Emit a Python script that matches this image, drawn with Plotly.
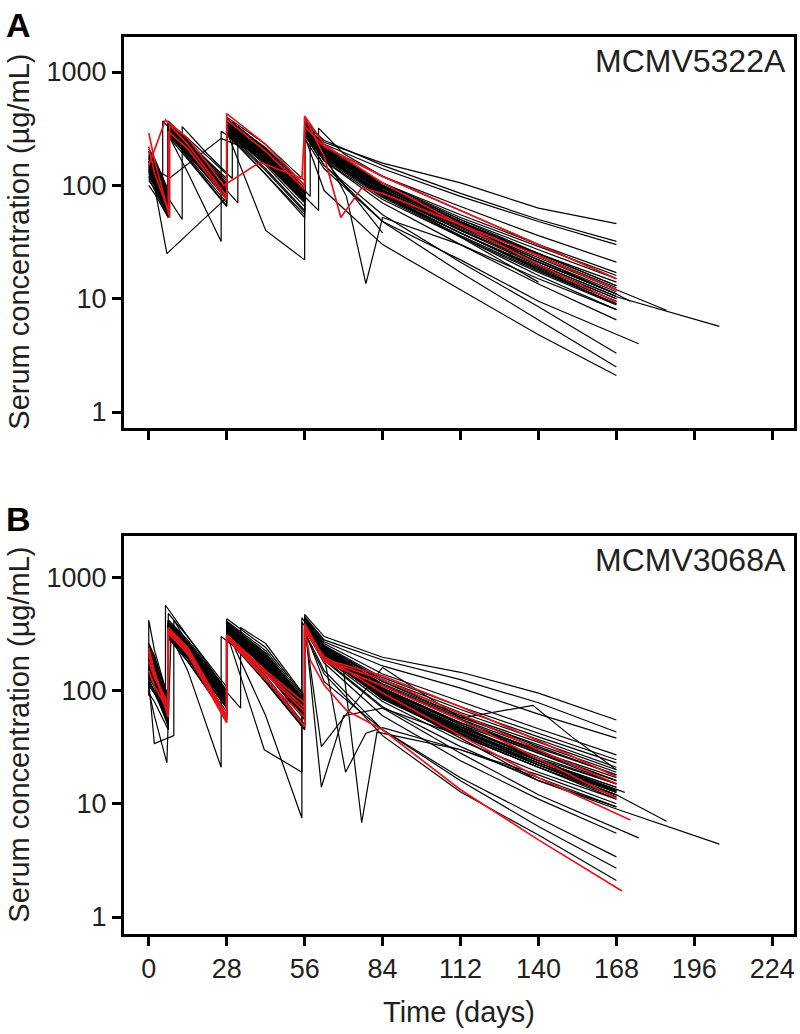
import plotly.graph_objects as go

# sampling grid (days) shared by most subjects; duplicated days = trough then post-dose peak
days_a = [0, 2, 7, 7, 14, 28, 28, 42, 56, 56, 63, 84, 112, 140, 168]
days_b = [0, 2, 7, 7, 14, 28, 28, 42, 56, 56, 63, 84, 112, 140, 168]

# MCMV5322A, serum concentration (ug/mL) per subject on days_a
black_a = [
    [200, 170, 90, 360, 260, 125, 400, 230, 110, 380, 240, 157, 105, 63, 46],
    [160, 140, 80, 330, 240, 115, 360, 210, 100, 350, 250, 150, 85, 50, 32],
    [150, 125, 70, 310, 220, 105, 340, 200, 95, 330, 230, 140, 80, 48, 30],
    [190, 160, 85, 350, 250, 110, 380, 215, 100, 360, 220, 120, 65, 36, 21],
    [140, 115, 65, 300, 210, 95, 330, 185, 85, 320, 200, 105, 52, 29, 16],
    [170, 145, 75, 320, 225, 100, 350, 195, 90, 340, 205, 100, 50, 27, 15],
    [120, 100, 60, 290, 200, 90, 320, 175, 80, 300, 190, 95, 46, 25, 13],
    [210, 175, 90, 370, 250, 105, 390, 205, 95, 370, 215, 100, 47, 24, 12.5],
    [130, 110, 62, 300, 205, 88, 310, 170, 78, 300, 185, 90, 44, 23, 12],
    [175, 150, 78, 330, 230, 98, 345, 185, 85, 330, 200, 92, 43, 22, 11.5],
    [110, 95, 55, 280, 190, 82, 300, 160, 72, 290, 180, 85, 40, 21, 11],
    [145, 120, 68, 310, 215, 92, 330, 175, 80, 310, 190, 88, 41, 20, 10.5],
    [195, 165, 82, 350, 235, 95, 360, 180, 82, 340, 195, 88, 40, 19.5, 10],
    [125, 105, 58, 290, 195, 85, 305, 165, 75, 290, 175, 82, 38, 19, 10],
    [160, 135, 72, 320, 215, 90, 330, 170, 78, 320, 185, 84, 38, 18.5, 9.5],
    [185, 150, 80, 340, 225, 92, 345, 172, 76, 330, 180, 80, 36, 17.5, 9],
    [100, 85, 52, 275, 185, 80, 295, 155, 70, 280, 170, 78, 35, 17, 8.8],
    [135, 112, 60, 295, 190, 78, 300, 150, 65, 290, 165, 70, 30, 13.5, 6.5],
    [150, 120, 58, 290, 180, 70, 290, 135, 58, 280, 150, 55, 21, 8.5, 3.3],
    [115, 92, 52, 270, 170, 65, 280, 125, 55, 260, 140, 48, 17, 6.5, 2.5],
    [165, 130, 60, 300, 175, 66, 290, 125, 52, 270, 90, 30, 12, 4.8, 2.1],
    [180, 155, 80, 340, 235, 100, 360, 190, 88, 340, 205, 98, 48, 25, 14],
    [155, 130, 74, 320, 225, 98, 345, 190, 88, 335, 210, 105, 55, 30, 17],
    [200, 170, 85, 360, 240, 100, 370, 190, 86, 345, 200, 90, 42, 21, 11],
    [140, 118, 66, 305, 210, 90, 320, 170, 78, 310, 185, 85, 35, 14, None],
    [170, 140, 70, 310, 200, 85, 320, 160, 72, 300, 170, 38, None, None, None],
]

# MCMV5322A subjects with shifted visits or longer follow-up
odd_a_days = [
    [0, 2, 6.5, 28, 28, 42, 56, 56, 63, 84, 112, 140, 168],
    [0, 2, 7, 7, 14, 26, 26, 42, 56, 56, 63, 84, 112, 140, 168],
    [0, 2, 7, 7, 14, 28, 28, 35, 42, 56, 56, 63, 84, 112, 140, 168],
    [0, 2, 7, 7, 14, 28, 28, 42, 56, 56, 63, 71, 78, 84, 112, 140, 168],
    [0, 2, 7, 7, 14, 28, 28, 42, 56, 56, 63, 84, 112, 140, 168, 205],
    [0, 2, 7, 7, 14, 28, 28, 42, 56, 56, 63, 84, 112, 140, 168, 186],
    [0, 2, 7, 7, 14, 28, 28, 42, 56, 56, 63, 84, 112, 140, 176],
    [0, 2, 7, 7, 14, 28, 28, 42, 56, 56, 63, 84, 112, 140, 168, 173],
    [0, 2, 12, 12, 21, 30, 30, 42, 56, 56, 63, 84, 112, 140, 168],
    [0, 2, 5, 5, 14, 32, 32, 42, 58, 58, 63, 84, 112, 140, 168],
    [0, 2, 7.5, 26, 42, 56, 56, 63, 84, 112, 140, 168],
    [0, 2, 7, 7, 14, 28, 28, 42, 61, 61, 70, 84, 112, 140, 168],
]
odd_a_conc = [
    [140, 100, 25, 78, 320, 170, 75, 300, 180, 82, 38, 18, 9],
    [120, 100, 55, 280, 130, 32, 300, 165, 75, 290, 175, 80, 38, 18, 9.5],
    [130, 105, 62, 300, 200, 88, 300, 110, 40, 22, 280, 165, 75, 35, 16, 8],
    [160, 135, 72, 320, 220, 95, 340, 180, 85, 320, 190, 80, 13.6, 52, 30, 15, 8],
    [175, 145, 80, 340, 240, 100, 350, 190, 88, 340, 210, 100, 45, 20, 10.4, 5.7],
    [150, 125, 70, 320, 225, 95, 340, 185, 86, 330, 205, 98, 48, 24, 12, 7.9],
    [135, 110, 60, 290, 190, 75, 300, 140, 60, 280, 150, 48, 22, 9.5, 4.0],
    [165, 140, 75, 330, 230, 95, 340, 185, 85, 335, 200, 95, 44, 21, 11, 9.5],
    [145, 120, 50, 330, 190, 115, 360, 200, 90, 330, 200, 95, 45, 22, 11],
    [200, 150, 110, 370, 220, 70, 330, 210, 80, 350, 220, 105, 50, 25, 13],
    [180, 140, 116, 260, 180, 95, 340, 210, 100, 48, 24, 12],
    [155, 130, 68, 310, 215, 90, 330, 175, 60, 320, 190, 120, 60, 30, 15],
]

red_a_days = [
    [0, 2, 7.5, 7.5, 14, 28, 28, 42, 56, 56, 63, 69, 76.5, 84, 112, 140, 168],
    [0, 6, 14, 27, 40, 55, 56, 63, 84, 112, 140, 168],
    [0, 2, 7, 7, 14, 28, 28, 42, 56, 56, 63, 84, 112, 140, 168],
]
red_a_conc = [
    [290, 170, 52, 340, 230, 80, 430, 230, 100, 400, 180, 52, 95, 85, 45, 24, 12],
    [150, 377, 260, 100, 160, 115, 330, 220, 120, 60, 30, 15],
    [220, 130, 60, 300, 210, 75, 380, 200, 92, 410, 230, 105, 45, 20, 9.3],
]

# MCMV3068A, serum concentration (ug/mL) per subject on days_b
black_b = [
    [250, 200, 88, 480, 300, 107, 430, 240, 88, 470, 300, 197, 145, 95, 55],
    [200, 165, 80, 420, 280, 100, 410, 225, 85, 450, 280, 186, 125, 78, 43],
    [230, 180, 78, 400, 270, 98, 400, 215, 82, 440, 270, 165, 105, 62, 38],
    [180, 150, 75, 380, 260, 95, 390, 205, 80, 430, 260, 140, 80, 46, 27],
    [160, 135, 70, 360, 250, 92, 380, 200, 78, 420, 250, 130, 72, 42, 24.5],
    [210, 170, 72, 370, 255, 90, 370, 195, 76, 410, 245, 125, 68, 39, 23],
    [140, 120, 65, 340, 240, 88, 360, 190, 74, 400, 240, 120, 64, 37, 21],
    [190, 160, 70, 350, 245, 86, 355, 185, 72, 400, 235, 115, 60, 35, 20],
    [220, 175, 74, 390, 255, 90, 375, 190, 74, 420, 240, 112, 58, 33, 19],
    [170, 140, 66, 340, 235, 84, 350, 180, 70, 390, 230, 110, 56, 31, 18],
    [130, 110, 60, 320, 225, 82, 340, 175, 68, 380, 225, 105, 52, 29, 17],
    [240, 190, 76, 400, 260, 88, 365, 180, 70, 410, 230, 102, 50, 28, 16],
    [150, 125, 62, 330, 230, 80, 345, 170, 66, 385, 220, 98, 48, 26, 15],
    [200, 160, 68, 360, 240, 82, 350, 172, 66, 395, 222, 96, 47, 25, 15],
    [120, 100, 58, 310, 215, 78, 330, 165, 64, 375, 215, 94, 45, 24, 14],
    [260, 205, 80, 420, 265, 88, 370, 175, 68, 420, 225, 92, 44, 24, 14],
    [175, 145, 66, 345, 235, 80, 345, 165, 64, 390, 215, 90, 43, 23, 13],
    [110, 95, 55, 300, 210, 75, 320, 158, 60, 370, 205, 88, 42, 22, 13],
    [185, 150, 68, 350, 235, 78, 340, 160, 62, 385, 210, 86, 41, 22, 12.6],
    [145, 120, 60, 325, 220, 76, 330, 155, 60, 375, 205, 84, 40, 21, 12],
    [165, 130, 58, 320, 210, 70, 320, 145, 55, 360, 190, 72, 32, 16, 9.4],
    [135, 108, 52, 300, 195, 65, 305, 135, 50, 350, 175, 60, 24, 11, 5.5],
    [155, 120, 50, 300, 190, 60, 300, 125, 48, 340, 120, 45, 17, 7.5, 3.4],
    [125, 100, 48, 290, 180, 58, 295, 120, 46, 330, 150, 45, 16, 6.3, 2.7],
    [145, 112, 50, 295, 182, 58, 290, 118, 45, 320, 140, 40, 12.7, 5.3, 2.1],
    [190, 155, 70, 360, 240, 84, 350, 170, 66, 390, 220, 95, 46, None, None],
    [205, 165, 72, 370, 245, 86, 360, 175, 68, 400, 225, 100, 52, 30, None],
    [95, 80, 45, 290, 200, 72, 310, 150, 58, 360, 195, 80, 36, 19, 11],
]

odd_b_days = [
    [0, 2, 6.5, 8, 14, 28, 28, 42, 56, 56, 63, 84, 112, 140, 168],
    [0, 2, 7, 7, 14, 26, 26, 42, 56, 56, 63, 84, 112, 140, 168],
    [0, 2, 7, 7, 14, 28, 28, 42, 55, 55, 63, 84, 112, 140, 168],
    [0, 2, 7, 7, 14, 28, 28, 41.5, 55, 55, 63, 84, 112, 140, 168],
    [0, 2, 7, 7, 14, 28, 28, 42, 56, 56, 62, 70, 84, 112, 140, 168],
    [0, 2, 7, 7, 14, 28, 28, 42, 56, 56, 63, 70, 76.5, 82, 112, 140, 168],
    [0, 2, 7, 7, 14, 28, 28, 42, 56, 56, 63, 70.7, 78, 84, 112, 140, 168],
    [0, 2, 7, 7, 14, 28, 28, 42, 56, 56, 62, 84, 112, 138, 152, 168],
    [0, 2, 7, 7, 14, 28, 28, 42, 56, 56, 63, 84, 112, 140, 168, 205],
    [0, 2, 7, 7, 14, 28, 28, 42, 56, 56, 63, 84, 112, 140, 168, 186],
    [0, 2, 7, 7, 14, 28, 28, 42, 56, 56, 63, 84, 112, 140, 176],
    [0, 2, 7, 7, 14, 28, 28, 42, 56, 56, 63, 84, 112, 140, 171],
    [0, 0, 2, 7, 7, 14, 28, 28, 42, 56, 56, 63, 84, 112, 140, 168],
    [0, 2, 6, 6, 14, 28, 28, 42, 56, 56, 63, 84, 112, 140, 168],
    [0, 2, 7, 7, 14, 33, 33, 42, 56, 56, 63, 84, 112, 140, 168],
    [0, 2, 9, 9, 14, 28, 28, 42, 56, 56, 63, 84, 112, 140, 168],
]
odd_b_conc = [
    [100, 60, 23, 300, 220, 80, 330, 165, 65, 380, 210, 90, 42, 22, 12],
    [160, 130, 60, 340, 150, 21, 300, 150, 60, 360, 200, 85, 40, 21, 11.5],
    [180, 140, 66, 350, 230, 80, 340, 60, 7.5, 440, 230, 95, 46, 24, 13],
    [150, 120, 60, 330, 220, 76, 320, 30, 19, 400, 220, 92, 44, 23, 12.6],
    [170, 140, 68, 350, 235, 82, 350, 170, 68, 400, 14, 60, 70, 40, 21, 11],
    [190, 150, 70, 360, 240, 84, 350, 170, 70, 390, 220, 150, 6.8, 43, 30, 17, 9.4],
    [130, 110, 62, 330, 225, 80, 340, 165, 72, 400, 200, 19, 42, 47, 30, 18, 10],
    [140, 115, 60, 320, 220, 78, 330, 160, 62, 370, 32, 160, 57, 74, 39, 20],
    [165, 135, 66, 340, 230, 82, 345, 170, 66, 390, 215, 88, 38, 16, 9, 4.4],
    [200, 160, 70, 360, 240, 84, 350, 172, 68, 400, 220, 95, 45, 22, 12, 7.0],
    [115, 95, 52, 300, 200, 70, 310, 145, 56, 350, 185, 70, 28, 12, 5.0],
    [210, 170, 74, 380, 250, 88, 360, 180, 70, 410, 230, 105, 50, 24, 12.6],
    [90, 418, 230, 85, 380, 260, 95, 380, 200, 78, 420, 240, 110, 55, 29, 16],
    [200, 150, 60, 567, 300, 100, 400, 210, 80, 430, 250, 120, 60, 32, 18],
    [175, 140, 70, 350, 240, 70, 360, 260, 90, 420, 240, 105, 52, 28, 15],
    [120, 34, 40, 420, 260, 90, 380, 190, 75, 410, 230, 100, 48, 25, 13],
]

red_b_days = [
    [0, 2, 7, 7, 14, 28, 28, 42, 56, 56, 58, 63, 71, 84, 112, 140, 170],
    [0, 2, 7, 7, 14, 28, 28, 42, 56, 56, 63, 84, 112, 140, 173],
    [0, 2, 7, 7, 14, 28, 28, 42, 56, 56, 63, 84, 112, 140, 168],
    [0, 2, 7, 7, 14, 28, 28, 42, 56, 56, 63, 84, 112, 140, 168],
    [0, 2, 7, 7, 14, 28, 28, 42, 56, 56, 63, 84, 112, 140, 168],
]
red_b_conc = [
    [237, 150, 58, 340, 220, 55, 300, 130, 48, 363, 186, 112, 67, 45, 13.3, 4.8, 1.7],
    [205, 140, 62, 330, 210, 52, 290, 125, 58, 340, 200, 95, 40, 17, 7.2],
    [180, 130, 78, 360, 240, 60, 310, 150, 78, 390, 190, 135, 72, 36, 17.3],
    [150, 110, 66, 320, 215, 56, 300, 140, 65, 350, 180, 110, 55, 25, 11.2],
    [220, 145, 70, 350, 230, 58, 310, 145, 70, 370, 185, 125, 62, 30, 15],
]

x_ticks = [0, 28, 56, 84, 112, 140, 168, 196, 224]
y_ticks = [1, 10, 100, 1000]
y_ticktext = ["1", "10", "100", "1000"]
panel_letters = ["A", "B"]
drug_names = ["MCMV5322A", "MCMV3068A"]

fig = go.Figure()


def add_lines(days_list, conc_list, color, width, xa, ya):
    for d, c in zip(days_list, conc_list):
        fig.add_trace(go.Scatter(x=d, y=c, mode="lines", xaxis=xa, yaxis=ya,
                                 line=dict(color=color, width=width),
                                 hoverinfo="skip", showlegend=False))


# panel A
add_lines([days_a] * len(black_a), black_a, "black", 1.2, "x", "y")
add_lines(odd_a_days, odd_a_conc, "black", 1.2, "x", "y")
add_lines(red_a_days, red_a_conc, "#e3161d", 1.7, "x", "y")
# panel B
add_lines([days_b] * len(black_b), black_b, "black", 1.2, "x2", "y2")
add_lines(odd_b_days, odd_b_conc, "black", 1.2, "x2", "y2")
add_lines(red_b_days, red_b_conc, "#e3161d", 1.7, "x2", "y2")

axis_style = dict(showline=True, linewidth=3, linecolor="black", mirror=True,
                  ticks="outside", ticklen=9, tickwidth=2.5, tickcolor="black",
                  showgrid=False, zeroline=False, tickfont=dict(size=27))

fig.update_layout(
    width=800, height=1034,
    margin=dict(l=124, r=3, t=37, b=100),
    plot_bgcolor="white", paper_bgcolor="white",
    showlegend=False,
    font=dict(family="Liberation Sans, Arial, sans-serif", size=27, color="#231f20"),
    xaxis=dict(domain=[0, 1], anchor="y", range=[-8.9, 231.8], tickvals=x_ticks,
               showticklabels=False, **axis_style),
    yaxis=dict(domain=[0.5641, 1], anchor="x", type="log", range=[-0.141, 3.309],
               tickvals=y_ticks, ticktext=y_ticktext, **axis_style),
    xaxis2=dict(domain=[0, 1], anchor="y2", range=[-8.9, 231.8], tickvals=x_ticks,
                **axis_style),
    yaxis2=dict(domain=[0, 0.4437], anchor="x2", type="log", range=[-0.15, 3.365],
                tickvals=y_ticks, ticktext=y_ticktext, **axis_style),
)

ann = []
# panel letters
ann.append(dict(text="<b>A</b>", x=-0.1575, y=1.013, xref="paper", yref="paper",
                showarrow=False, font=dict(size=34, color="black"),
                xanchor="center", yanchor="middle"))
ann.append(dict(text="<b>B</b>", x=-0.1575, y=0.4626, xref="paper", yref="paper",
                showarrow=False, font=dict(size=34, color="black"),
                xanchor="center", yanchor="middle"))
# drug names
ann.append(dict(text=drug_names[0], x=0.991, y=0.9738, xref="paper", yref="paper",
                showarrow=False, font=dict(size=32), xanchor="right", yanchor="middle"))
ann.append(dict(text=drug_names[1], x=0.991, y=0.4175, xref="paper", yref="paper",
                showarrow=False, font=dict(size=32), xanchor="right", yanchor="middle"))
# axis titles
ann.append(dict(text="Serum concentration (µg/mL)", x=-0.158, y=0.772, xref="paper",
                yref="paper", showarrow=False, textangle=-90, font=dict(size=29),
                xanchor="center", yanchor="middle"))
ann.append(dict(text="Serum concentration (µg/mL)", x=-0.158, y=0.2224, xref="paper",
                yref="paper", showarrow=False, textangle=-90, font=dict(size=29),
                xanchor="center", yanchor="middle"))
ann.append(dict(text="Time (days)", x=0.5007, y=-0.087, xref="paper", yref="paper",
                showarrow=False, font=dict(size=29), xanchor="center", yanchor="middle"))
fig.update_layout(annotations=ann)

# drop the page's default body margin so the figure fills the window
fig.write_html("out.html", config={"displayModeBar": False},
               post_script="document.body.style.margin = '0';")
